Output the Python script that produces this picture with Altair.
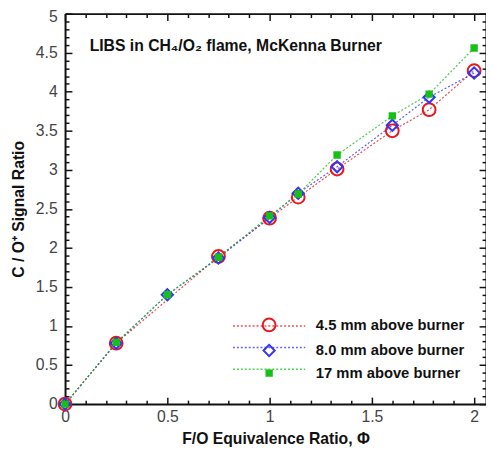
import altair as alt
import pandas as pd

series_names = ["4.5 mm above burner", "8.0 mm above burner", "17 mm above burner"]
series_colors = ["#e8171c", "#3434f2", "#16c016"]

phi_45 = [0, 0.25, 0.75, 1.0, 1.14, 1.33, 1.6, 1.78, 2.0]
ratio_45 = [0, 0.78, 1.89, 2.38, 2.65, 3.01, 3.50, 3.77, 4.27]
phi_80 = [0, 0.25, 0.5, 0.75, 1.0, 1.14, 1.33, 1.6, 1.78, 2.0]
ratio_80 = [0, 0.78, 1.40, 1.87, 2.39, 2.70, 3.04, 3.57, 3.93, 4.24]
phi_17 = [0, 0.25, 0.5, 0.75, 1.0, 1.14, 1.33, 1.6, 1.78, 2.0]
ratio_17 = [0, 0.79, 1.40, 1.88, 2.41, 2.69, 3.19, 3.69, 3.97, 4.56]

x_major = [0, 0.5, 1, 1.5, 2]
y_major = [0, 0.5, 1, 1.5, 2, 2.5, 3, 3.5, 4, 4.5, 5]
y_labels_main = [0, 0.5, 1, 1.5, 2, 2.5, 3, 3.5, 4, 4.5]
y_label_top = [5]
x_minor = [round(i * 0.1, 1) for i in range(0, 21) if i % 5 != 0]
y_minor = [round(i * 0.1, 1) for i in range(0, 51) if i % 5 != 0]

annotation = "LIBS in CH\u2084/O\u2082 flame, McKenna Burner"
x_title = "F/O Equivalence Ratio, \u03a6"
y_title = "C / O\u207a Signal Ratio"

rows = []
for name, xs_, ys_ in zip(series_names, [phi_45, phi_80, phi_17], [ratio_45, ratio_80, ratio_17]):
    for a, b in zip(xs_, ys_):
        rows.append({"series": name, "phi": a, "ratio": b})
df = pd.DataFrame(rows)

W, H = 428, 397
FONT = "Liberation Sans"
xs = alt.Scale(domain=[0, 2.058], nice=False, zero=False)
ys = alt.Scale(domain=[0, 5], nice=False, zero=False)

LX, LY = 200, 309
RP = 5

# legend of the dotted line samples (no labels), drawn under the marker legend
line_legend = alt.Legend(
    orient="none", legendX=LX - 1, legendY=LY, title=None,
    symbolType="M-4.9,0H4.9", symbolSize=225, symbolStrokeWidth=1.5,
    symbolDash=[2, 2], symbolOpacity=0.75, labelExpr="''", labelFontSize=15,
    labelFont=FONT, rowPadding=RP, padding=0, labelOffset=0,
)
pts_legend = alt.Legend(
    orient="none", legendX=LX, legendY=LY, title=None,
    labelFontSize=15, labelFont=FONT, labelFontWeight="bold", labelColor="#111",
    symbolStrokeWidth=2, rowPadding=RP, padding=0, labelOffset=40,
)

lines = alt.Chart(df).mark_line(strokeDash=[2, 2], strokeWidth=1.2, opacity=0.8).encode(
    x=alt.X("phi:Q", scale=xs, axis=alt.Axis(
        orient="bottom", values=x_major, format="~g", ticks=False, labelFlush=False,
        labelPadding=5, title=x_title, titlePadding=6)),
    y=alt.Y("ratio:Q", scale=ys, axis=alt.Axis(
        orient="left", values=y_labels_main, format="~g", ticks=False, labelFlush=False,
        labelPadding=8, title=y_title, titlePadding=9)),
    color=alt.Color("series:N", sort=series_names,
                    scale=alt.Scale(range=series_colors), legend=line_legend),
)

pdom = series_names
points = alt.Chart(df).mark_point(filled=True, strokeWidth=2, opacity=1).encode(
    x=alt.X("phi:Q", scale=xs, axis=None),
    y=alt.Y("ratio:Q", scale=ys, axis=None),
    shape=alt.Shape("series:N",
                    scale=alt.Scale(domain=pdom, range=["circle", "diamond", "square"]),
                    legend=pts_legend),
    stroke=alt.Stroke("series:N", scale=alt.Scale(domain=pdom, range=series_colors),
                      legend=pts_legend),
    fill=alt.Fill("series:N",
                  scale=alt.Scale(domain=pdom, range=["transparent", "transparent", series_colors[2]]),
                  legend=pts_legend),
    size=alt.Size("series:N", scale=alt.Scale(type="ordinal", domain=pdom, range=[169, 130, 30]),
                  legend=pts_legend),
)


def tick_layer(xorient, yorient, xvals, yvals, size, domain):
    return alt.Chart(df).mark_point(opacity=0).encode(
        x=alt.X("phi:Q", scale=xs, axis=alt.Axis(
            orient=xorient, offset=-H, values=xvals, labels=False, title=None,
            tickSize=size, tickWidth=1.5, tickColor="#111", domain=domain,
            domainColor="#111", domainWidth=2, grid=False)),
        y=alt.Y("ratio:Q", scale=ys, axis=alt.Axis(
            orient=yorient, offset=-W, values=yvals, labels=False, title=None,
            tickSize=size, tickWidth=1.5, tickColor="#111", domain=domain,
            domainColor="#111", domainWidth=2, grid=False)),
    )


ticks = [
    tick_layer("top", "right", x_major, y_major, 7, False),
    tick_layer("top", "right", x_minor, y_minor, 4, False),
    tick_layer("bottom", "left", x_major, y_major, 7, True),
    tick_layer("bottom", "left", x_minor, y_minor, 4, False),
]

top_label = alt.Chart(df).mark_point(opacity=0).encode(
    y=alt.Y("ratio:Q", scale=ys, axis=alt.Axis(
        orient="left", values=y_label_top, format="~g", ticks=False, domain=False,
        labelPadding=8, labelOffset=3, title=None)),
)

label = alt.Chart(pd.DataFrame({"t": [annotation]})).mark_text(
    align="left", baseline="middle", fontSize=16, fontWeight="bold", font=FONT, color="#111"
).encode(x=alt.value(25), y=alt.value(33), text="t:N")

chart = alt.layer(lines, points, *ticks, top_label, label).resolve_axis(
    x="independent", y="independent"
).properties(
    width=W, height=H, autosize="none",
    padding={"left": 58, "top": 2, "right": 0, "bottom": 45},
).configure_view(stroke=None).configure_axis(
    labelFont=FONT, labelFontSize=16, labelColor="#444",
    titleFont=FONT, titleFontSize=16, titleFontWeight="bold", titleColor="#111",
    domainColor="#111", domainWidth=2, grid=False,
)

chart.save("out.html", embed_options={"renderer": "svg", "actions": False})
